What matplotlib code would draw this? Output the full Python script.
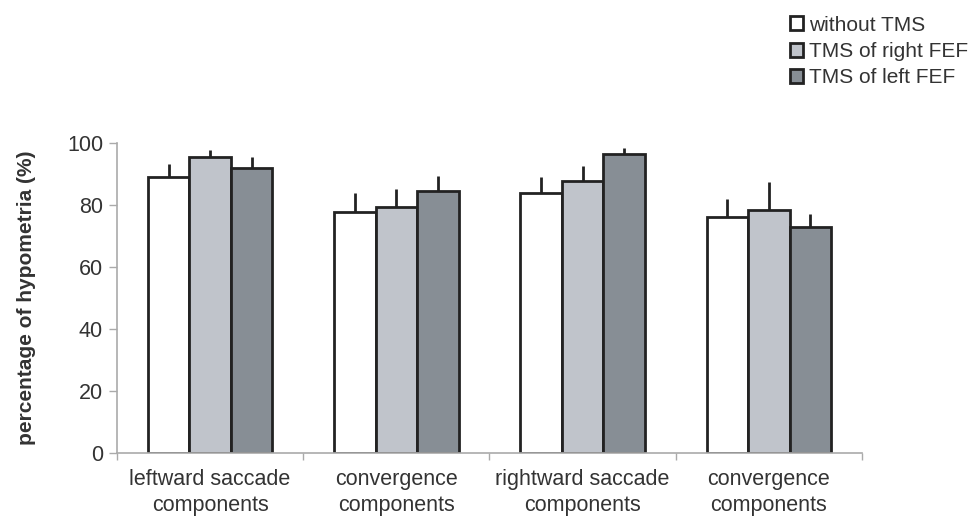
import numpy as np
import matplotlib
matplotlib.use("Agg")
import matplotlib.pyplot as plt
from matplotlib.patches import Patch

plt.rcParams['font.family'] = ['Liberation Sans', 'DejaVu Sans']

# data
categories = ["leftward saccade\ncomponents", "convergence\ncomponents",
              "rightward saccade\ncomponents", "convergence\ncomponents"]
series_names = ["without TMS", "TMS of right FEF", "TMS of left FEF"]
without_tms = [89.2, 77.9, 83.9, 76.1]
right_fef = [95.4, 79.5, 87.9, 78.3]
left_fef = [91.9, 84.6, 96.5, 72.9]
without_err = [4.0, 6.0, 5.0, 5.8]
right_err = [2.4, 5.7, 4.8, 9.0]
left_err = [3.6, 4.9, 2.0, 4.2]

colors = ["#ffffff", "#c0c4cb", "#878e95"]
edge = "#222222"
text_col = "#333333"
spine_col = "#aaaaaa"

fig = plt.figure(figsize=(9.79, 5.24), dpi=100)
ax = fig.add_axes([0.1195, 0.135, 0.761, 0.592])

x = np.arange(len(categories))
w = 0.223
values = [without_tms, right_fef, left_fef]
errors = [without_err, right_err, left_err]
for k in range(3):
    pos = x + (k - 1) * w
    ax.bar(pos, values[k], width=w, color=colors[k], edgecolor=edge,
           linewidth=2, zorder=2)
    ax.errorbar(pos, values[k], yerr=[np.zeros(len(x)), errors[k]],
                fmt='none', ecolor=edge, elinewidth=2, capsize=0, zorder=3)

ax.set_xlim(-0.5, len(categories) - 0.5)
ax.set_ylim(0, 100)
ax.set_yticks([0, 20, 40, 60, 80, 100])
ax.set_xticks(x)
ax.set_xticklabels(categories, fontsize=15.5, color=text_col, linespacing=1.35)
ax.set_xticks(np.arange(-0.5, len(categories)), minor=True)
ax.tick_params(axis='x', which='major', length=0, pad=11)
ax.tick_params(axis='x', which='minor', length=5, color=spine_col, width=1)
ax.tick_params(axis='y', length=6, color=spine_col, width=1, pad=4,
               labelsize=15.5, labelcolor=text_col)

for s in ['top', 'right']:
    ax.spines[s].set_visible(False)
for s in ['left', 'bottom']:
    ax.spines[s].set_color(spine_col)
    ax.spines[s].set_linewidth(1.2)

ax.set_ylabel("percentage of hypometria (%)", fontsize=15, fontweight='bold',
              color=text_col, labelpad=22)

handles = [Patch(facecolor=c, edgecolor=edge, linewidth=2) for c in colors]
fig.legend(handles, series_names, loc='upper left',
           bbox_to_anchor=(0.796, 0.99), frameon=False, fontsize=15,
           handlelength=0.65, handleheight=0.65, handletextpad=0.3,
           labelspacing=0.35, borderpad=0, labelcolor=text_col)

fig.savefig("out.png", dpi=100)
